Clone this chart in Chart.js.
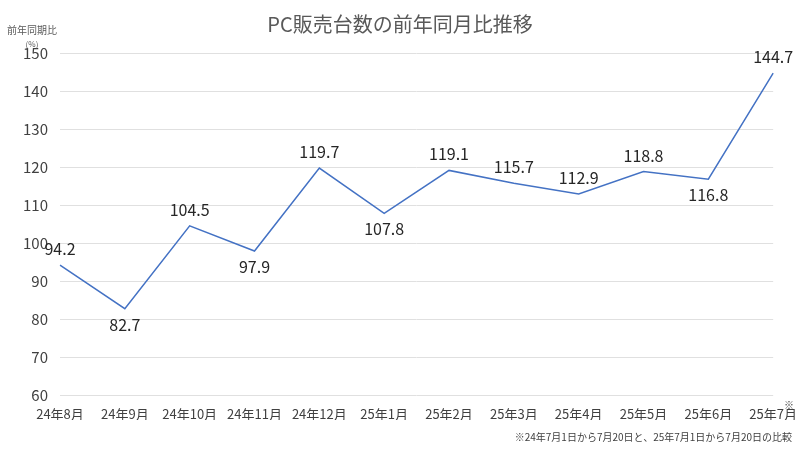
<!DOCTYPE html>
<html>
<head>
<meta charset="utf-8">
<script src="https://cdn.jsdelivr.net/npm/chart.js@4"></script>
<style>body{margin:0;background:#fff}</style>
</head>
<body>
<canvas id="myChart" width="800" height="450"></canvas>
<script>
const months = ["24年8月", "24年9月", "24年10月", "24年11月", "24年12月", "25年1月", "25年2月", "25年3月", "25年4月", "25年5月", "25年6月", "25年7月"]
const ratios = [94.2, 82.7, 104.5, 97.9, 119.7, 107.8, 119.1, 115.7, 112.9, 118.8, 116.8, 144.7]
const labelBelow = [false, true, false, true, false, true, false, false, false, false, true, false]
const yTicks = [60, 150, 10]

const font = "'Noto Sans CJK JP', 'Noto Sans', sans-serif"

const extras = {
  id: "extras",
  afterDatasetsDraw(chart) {
    const ctx = chart.ctx
    const meta = chart.getDatasetMeta(0)
    ctx.save()
    ctx.fillStyle = "#262626"
    ctx.font = "16px " + font
    ctx.textAlign = "center"
    meta.data.forEach((pt, i) => {
      ctx.textBaseline = labelBelow[i] ? "top" : "bottom"
      ctx.fillText(ratios[i].toFixed(1), pt.x, labelBelow[i] ? pt.y + 8 : pt.y - 8)
    })
    // title
    ctx.fillStyle = "#595959"
    ctx.font = "20px " + font
    ctx.textBaseline = "middle"
    ctx.fillText("PC販売台数の前年同月比推移", 400, 24)
    // y axis title
    ctx.font = "10px " + font
    ctx.fillText("前年同期比", 32, 30)
    ctx.font = "8px " + font
    ctx.fillText("(%)", 32, 44)
    // note mark and footnote
    ctx.fillStyle = "#404040"
    ctx.font = "10px " + font
    ctx.fillText("※", 789, 405)
    ctx.textAlign = "right"
    ctx.fillText("※24年7月1日から7月20日と、25年7月1日から7月20日の比較", 792, 437)
    ctx.restore()
  }
}

new Chart(document.getElementById("myChart"), {
  type: "line",
  data: {
    labels: months,
    datasets: [{
      data: ratios,
      borderColor: "#4472c4",
      borderWidth: 1.5,
      pointRadius: 0,
      tension: 0,
    }],
  },
  options: {
    responsive: false,
    animation: false,
    layout: { padding: { top: 53, right: 10, bottom: 30, left: 15 } },
    plugins: { legend: { display: false }, tooltip: { enabled: false } },
    scales: {
      x: {
        grid: { display: false },
        border: { display: false },
        ticks: { color: "#404040", font: { size: 13, family: font }, maxRotation: 0, autoSkip: false },
        afterFit: s => { s.height = 25 },
      },
      y: {
        min: yTicks[0],
        max: yTicks[1],
        ticks: { stepSize: yTicks[2], color: "#404040", font: { size: 15, family: font }, padding: 12 },
        grid: { color: "#e0e0e0", drawTicks: false },
        border: { display: false },
        afterFit: s => { s.width = 45 },
      },
    },
  },
  plugins: [extras],
})
</script>
</body>
</html>
